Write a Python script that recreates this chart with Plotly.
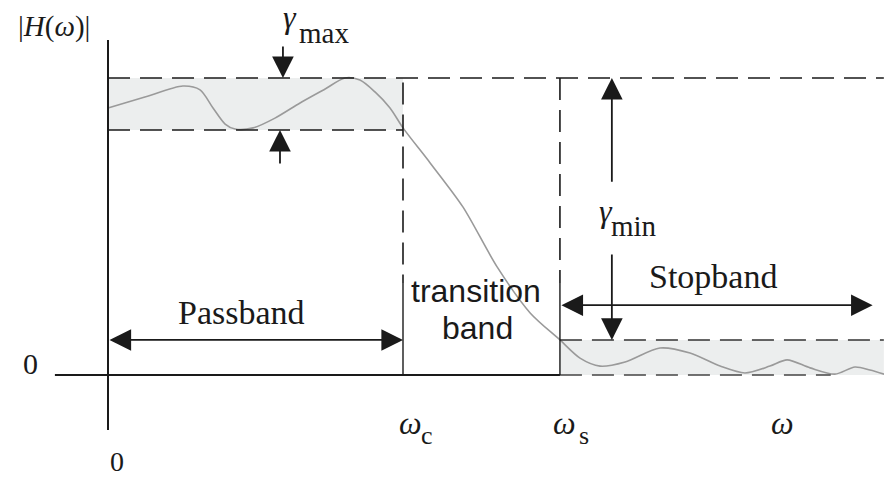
import plotly.graph_objects as go

# Frequency axis in units of the cutoff frequency, magnitude normalised to the passband peak
omega_c = 1.0
omega_s = 1.532
omega_end = 2.63
pass_hi = 1.0
pass_lo = 0.825
stop_hi = 0.118

# Sketched magnitude response |H(w)|
w_pts = [0.0, 0.125, 0.254, 0.312, 0.356, 0.397, 0.431, 0.492, 0.566, 0.651, 0.736,
         0.803, 0.854, 0.905, 0.956, 1.0,
         1.092, 1.203, 1.319, 1.431, 1.532,
         1.600, 1.668, 1.753, 1.871, 1.973, 2.075, 2.159, 2.244, 2.302, 2.380,
         2.464, 2.532, 2.583, 2.631]
h_pts = [0.899, 0.936, 0.973, 0.960, 0.899, 0.845, 0.828, 0.832, 0.865, 0.916, 0.963,
         1.0, 0.993, 0.953, 0.899, 0.832,
         0.714, 0.566, 0.364, 0.209, 0.118,
         0.057, 0.030, 0.044, 0.091, 0.074, 0.030, 0.007, 0.030, 0.051, 0.024,
         0.003, 0.027, 0.017, 0.003]

SERIF = "Liberation Serif"
SANS = "Liberation Sans"
INK = "#1a1a1a"
SHADE = "#eceeee"
DASH = "22px,10px"

fig = go.Figure()

shapes = []
# shaded tolerance bands
shapes.append(dict(type="rect", x0=0, x1=omega_c, y0=pass_lo, y1=pass_hi,
                   fillcolor=SHADE, line=dict(width=0), layer="below"))
shapes.append(dict(type="rect", x0=omega_s, x1=omega_end, y0=0, y1=stop_hi,
                   fillcolor=SHADE, line=dict(width=0), layer="below"))


def seg(x0, y0, x1, y1, dash="solid", width=1.6, color=INK):
    shapes.append(dict(type="line", x0=x0, y0=y0, x1=x1, y1=y1,
                       line=dict(color=color, width=width, dash=dash)))


# axes
seg(0, -0.185, 0, 1.128, width=2)
seg(-0.18, 0, omega_s, 0, width=2.2)
seg(omega_s, 0, 2.45, 0, dash=DASH, width=1.6, color="#444")
# tolerance limits
seg(0, pass_hi, omega_end, pass_hi, dash=DASH)
seg(0, pass_lo, omega_c, pass_lo, dash=DASH)
seg(omega_s, stop_hi, omega_end, stop_hi, dash=DASH, color="#333")
# band edges
seg(omega_c, pass_hi - 0.015, omega_c, 0.31, dash=DASH)
seg(omega_c, 0.31, omega_c, 0, width=1.4)
seg(omega_s, pass_hi, omega_s, 0.31, dash=DASH)
seg(omega_s, 0.31, omega_s, 0, width=1.4)

fig.add_trace(go.Scatter(x=w_pts, y=h_pts, mode="lines",
                         line=dict(color="#9a9a9a", width=1.6, shape="spline", smoothing=0.8),
                         hoverinfo="skip", showlegend=False))

ann = []
HEAD = 2.4


def arrow(x, y, ax, ay, both=False):
    d = dict(x=x, y=y, ax=ax, ay=ay, xref="x", yref="y", axref="x", ayref="y",
             text="", showarrow=True, arrowhead=2, arrowsize=HEAD, arrowwidth=1.8,
             arrowcolor=INK)
    if both:
        d.update(arrowside="end+start", startarrowhead=2, startarrowsize=HEAD)
    ann.append(d)


def label(x, y, text, size=30, family=SERIF, italic=False):
    t = f"<i>{text}</i>" if italic else text
    ann.append(dict(x=x, y=y, xref="x", yref="y", text=t, showarrow=False,
                    font=dict(family=family, size=size, color=INK),
                    xanchor="center", yanchor="middle"))


# gamma_max markers
arrow(0.593, pass_hi, 0.593, 1.111)
arrow(0.583, pass_lo, 0.583, 0.707)
label(0.617, 1.205, "γ", size=32, italic=True)
label(0.732, 1.151, "max", size=29)

# gamma_min markers
arrow(1.708, pass_hi, 1.708, 0.646)
arrow(1.708, stop_hi, 1.708, 0.411)
label(1.688, 0.552, "γ", size=32, italic=True)
label(1.783, 0.502, "min", size=29)

# band arrows
arrow(omega_c, 0.118, 0, 0.118, both=True)
arrow(2.592, 0.235, omega_s, 0.235, both=True)
label(0.452, 0.212, "Passband", size=34)
label(2.051, 0.333, "Stopband", size=34)
label(1.247, 0.283, "transition", size=32, family=SANS)
label(1.251, 0.158, "band", size=32, family=SANS)

# axis labels
label(-0.183, 1.172, "|<i>H</i>(<i>ω</i>)|", size=29)
label(-0.264, 0.040, "0", size=30)
label(0.031, -0.290, "0", size=28)
label(1.024, -0.162, "ω", size=32, italic=True)
label(1.080, -0.205, "c", size=26)
label(1.546, -0.162, "ω", size=32, italic=True)
label(1.612, -0.205, "s", size=26)
label(2.288, -0.160, "ω", size=32, italic=True)

fig.update_layout(
    width=884, height=480,
    margin=dict(l=0, r=0, t=0, b=0),
    paper_bgcolor="white", plot_bgcolor="white",
    xaxis=dict(range=[-0.3661, 2.6305], visible=False, fixedrange=True),
    yaxis=dict(range=[-0.3535, 1.2626], visible=False, fixedrange=True),
    shapes=shapes, annotations=ann, showlegend=False,
)

fig.write_html("out.html")
